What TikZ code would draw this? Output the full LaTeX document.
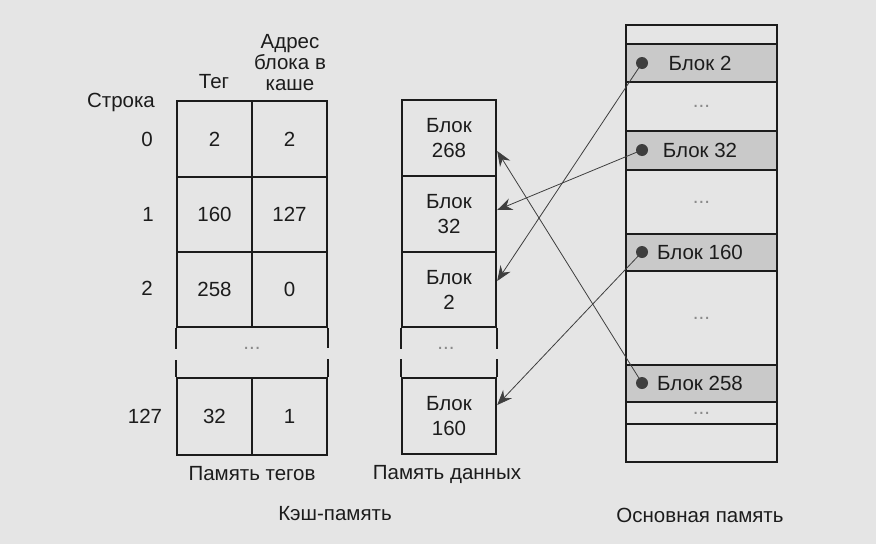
\documentclass[tikz,border=0pt]{standalone}
\usepackage{fontspec}
\setmainfont{Liberation Sans}
\usetikzlibrary{arrows.meta}
\definecolor{bg}{HTML}{E5E5E5}
\definecolor{graycell}{HTML}{C9C9C9}
\definecolor{ink}{HTML}{1C1C1C}
\definecolor{faint}{HTML}{8A8A8A}
\begin{document}
\begin{tikzpicture}[x=1pt,y=-1pt,
  every node/.style={font=\fontsize{20.5}{24}\selectfont, text=ink, inner sep=0pt},
  cell/.style={draw=ink, line width=2.4pt, minimum width=75pt},
  dcell/.style={draw=ink, line width=2.4pt, minimum width=94pt, align=center, font=\fontsize{20.5}{25}\selectfont},
  memrow/.style={draw=ink, line width=2.4pt, minimum width=151pt},
  hot/.style={memrow, fill=graycell},
  edge/.style={draw=ink, line width=2.4pt},
  dotsym/.style={text=faint},
  blob/.style={circle, fill=ink!85, minimum size=12pt},
  link/.style={draw=ink!85, line width=0.8pt, -{Stealth[length=15pt,width=12pt,inset=5pt]}}
]
\useasboundingbox[fill=bg] (0,0) rectangle (876,544);

% ---- tag memory ----
\node[cell, minimum height=76pt] (t0a) at (214.5,139) {2};
\node[cell, minimum height=76pt] (t0b) at (289.5,139) {2};
\node[cell, minimum height=75pt] (t1a) at (214.5,214.5) {160};
\node[cell, minimum height=75pt] (t1b) at (289.5,214.5) {127};
\node[cell, minimum height=75pt] (t2a) at (214.5,289.5) {258};
\node[cell, minimum height=75pt] (t2b) at (289.5,289.5) {0};
\node[cell, minimum height=77pt] (t3a) at (214.5,416.5) {32};
\node[cell, minimum height=77pt] (t3b) at (289.5,416.5) {1};
\draw[edge] (t2a.south west) -- ++(0,21);
\draw[edge] (t3a.north west) -- ++(0,-17);
\draw[edge] (t2b.south east) -- ++(0,20);
\draw[edge] (t3b.north east) -- ++(0,-18);
\node[dotsym] (tdots) at (252,348) {...};

% headers
\node (hrow) at (121,102) {Строка};
\node (htag) at (214,82) {Тег};
\node[align=center, font=\fontsize{20.5}{21}\selectfont] (haddr) at (290,63) {Адрес\\блока в\\каше};
\node (r0) at (147,139) {0};
\node (r1) at (148,214) {1};
\node (r2) at (147,288) {2};
\node (r3) at (145,416) {127};

% ---- data memory ----
\node[dcell, minimum height=76pt] (m268) at (449,138) {Блок\\268};
\node[dcell, minimum height=76pt] (m32) at (449,214) {Блок\\32};
\node[dcell, minimum height=75pt] (m2) at (449,289.5) {Блок\\2};
\node[dcell, minimum height=76pt] (m160) at (449,416) {Блок\\160};
\draw[edge] (m2.south west) -- ++(0,21);
\draw[edge] (m160.north west) -- ++(0,-18);
\draw[edge] (m2.south east) -- ++(0,21);
\draw[edge] (m160.north east) -- ++(0,-18);
\node[dotsym] (mdots) at (446,348) {...};

% labels
\node (ltag) at (252,474) {Память тегов};
\node (ldata) at (447,474) {Память данных};
\node (lcache) at (335,514) {Кэш-память};
\node (lmain) at (700,515) {Основная память};

% ---- main memory ----
\node[memrow, minimum height=19pt] (w0) at (701.5,34.5) {};
\node[hot, minimum height=38pt] (b2) at (701.5,63) {\hspace{-3pt}Блок 2};
\node[memrow, minimum height=49pt] (w1) at (701.5,106.5) {\textcolor{faint}{...}};
\node[hot, minimum height=39pt] (b32) at (701.5,150.5) {\hspace{-3pt}Блок 32};
\node[memrow, minimum height=64pt] (w2) at (701.5,202) {\textcolor{faint}{...}};
\node[hot, minimum height=37pt] (b160) at (701.5,252.5) {\hspace{-3pt}Блок 160};
\node[memrow, minimum height=94pt] (w3) at (701.5,318) {\textcolor{faint}{...}};
\node[hot, minimum height=37pt] (b258) at (701.5,383.5) {\hspace{-3pt}Блок 258};
\node[memrow, minimum height=22pt] (w4) at (701.5,413) {\textcolor{faint}{...}};
\node[memrow, minimum height=38pt] (w5) at (701.5,443) {};

% connectors
\draw[link] (642,63) -- ([yshift=8.5pt]m2.east);
\draw[link] (642,150) -- ([yshift=4pt]m32.east);
\draw[link] (642,252) -- ([yshift=11pt]m160.east);
\draw[link] (642,383) -- ([yshift=-13pt]m268.east);

\node[blob] (d2) at (642,63) {};
\node[blob] (d32) at (642,150) {};
\node[blob] (d160) at (642,252) {};
\node[blob] (d258) at (642,383) {};
\end{tikzpicture}
\end{document}
